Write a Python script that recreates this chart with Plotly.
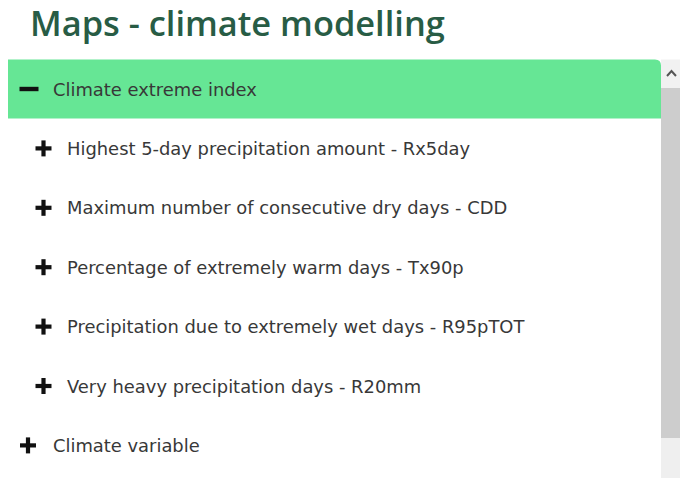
import plotly.graph_objects as go

# ---- content ----
title_text = "Maps - climate modelling"
open_group = "Climate extreme index"
sub_items = [
    "Highest 5-day precipitation amount - Rx5day",
    "Maximum number of consecutive dry days - CDD",
    "Percentage of extremely warm days - Tx90p",
    "Precipitation due to extremely wet days - R95pTOT",
    "Very heavy precipitation days - R20mm",
]
closed_groups = ["Climate variable"]

W, H = 680, 479
ROW0 = 89      # centre of the open group row
STEP = 59.4    # row spacing
GREEN = "#66e695"
TITLE_COL = "#285c45"
TEXT_COL = "#383838"
FONT = "'DejaVu Sans', sans-serif"
TITLE_FONT = "'Open Sans', sans-serif"

shapes = []
annotations = []


def rect(x0, y0, x1, y1, color):
    shapes.append(dict(type="rect", xref="x", yref="y", x0=x0, y0=y0, x1=x1, y1=y1,
                       fillcolor=color, line=dict(width=0), layer="below"))


def plus(cx, cy, half=8, t=2.1, color="#111111"):
    rect(cx - half, cy - t, cx + half, cy + t, color)
    rect(cx - t, cy - half, cx + t, cy + half, color)


def minus(cx, cy, half=9.5, t=2.2, color="#111111"):
    rect(cx - half, cy - t, cx + half, cy + t, color)


def label(x, y, text, size=17.9, color=TEXT_COL):
    annotations.append(dict(x=x, y=y, xref="x", yref="y", text=text, showarrow=False,
                            xanchor="left", yanchor="middle",
                            font=dict(family=FONT, size=size, color=color)))


# title
annotations.append(dict(x=28, y=22, xref="x", yref="y", text=title_text,
                        showarrow=False, xanchor="left", yanchor="middle",
                        font=dict(family=TITLE_FONT, size=34.4, color=TITLE_COL, weight=600)))

# green header bar with rounded top-right corner
r = 6
x0, y0, x1, y1 = 8, 59.5, 661, 118.5
shapes.append(dict(type="path", xref="x", yref="y",
                   path=f"M {x0},{y0} L {x1 - r},{y0} Q {x1},{y0} {x1},{y0 + r} L {x1},{y1} L {x0},{y1} Z",
                   fillcolor=GREEN, line=dict(width=0), layer="below"))

# scrollbar
rect(661, 59.5, 680, 88, "#f1f1f1")
rect(661, 88, 680, 438, "#cdcdcd")
rect(661, 438, 680, 478, "#efefef")
shapes.append(dict(type="path", xref="x", yref="y", path="M 667,76 L 671.5,71 L 676,76",
                   line=dict(color="#555555", width=2)))

# open group
minus(29, ROW0)
label(51, ROW0, open_group)

# sub items
for i, txt in enumerate(sub_items):
    y = ROW0 + STEP * (i + 1)
    plus(43.5, y)
    label(65, y, txt)

# closed groups
for j, txt in enumerate(closed_groups):
    y = ROW0 + STEP * (len(sub_items) + 1 + j)
    plus(28, y)
    label(51, y, txt)

fig = go.Figure()
fig.update_layout(
    width=W, height=H, margin=dict(l=0, r=0, t=0, b=0),
    paper_bgcolor="white", plot_bgcolor="white",
    xaxis=dict(range=[0, W], visible=False, fixedrange=True),
    yaxis=dict(range=[H, 0], visible=False, fixedrange=True),
    shapes=shapes, annotations=annotations, showlegend=False,
)
fig.write_html("out.html", config={"displayModeBar": False},
               post_script="document.body.style.margin='0';document.body.style.overflow='hidden';")
